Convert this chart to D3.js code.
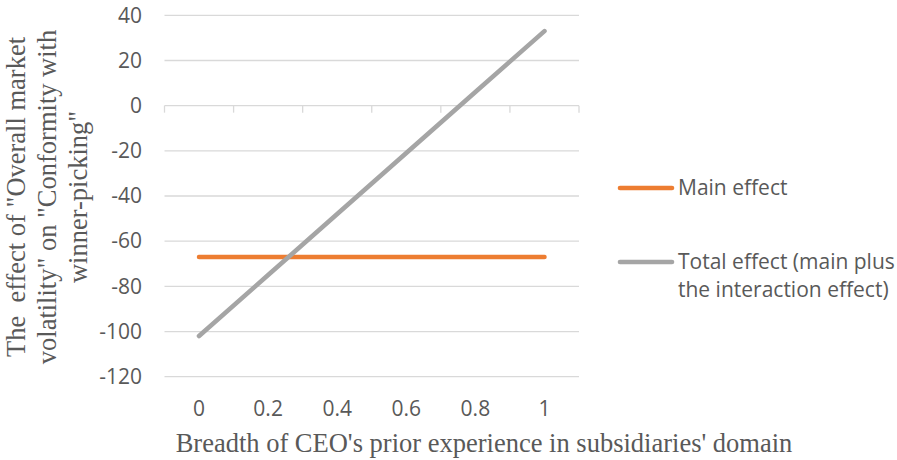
<!DOCTYPE html>
<html><head><meta charset="utf-8">
<script src="https://cdn.jsdelivr.net/npm/d3@7"></script>
<style>body{margin:0;background:#fff}svg{display:block}</style>
</head><body>
<svg id="c" width="897" height="460"></svg>
<script>
const categories = ["0", "0.2", "0.4", "0.6", "0.8", "1"];
const mainEffect = [-67, -67, -67, -67, -67, -67];
const totalEffect = [-102, -75, -48, -21, 6, 33];
const yTicks = [40, 20, 0, -20, -40, -60, -80, -100, -120];
const seriesNames = ["Main effect", "Total effect (main plus|the interaction effect)"];
const colors = ["#ED7D31", "#A5A5A5"];
const yTitle = ["The  effect of \"Overall market", "volatility\" on \"Conformity with", "winner-picking\""];
const xTitle = "Breadth of CEO's prior experience in subsidiaries' domain";

const svg = d3.select("#c");
const L = 164.5, R = 579, T = 15.3, B = 376.7;
const x = d3.scaleBand().domain(categories).range([L, R]).padding(0);
const y = d3.scaleLinear().domain([-120, 40]).range([B, T]);
const tickFont = "'Open Sans', sans-serif";
const serif = "'Liberation Serif', 'Times New Roman', serif";
const txtCol = "#595959";
const fs = 21;

// gridlines
svg.append("g").selectAll("line").data(yTicks.filter(d => d !== 0)).join("line")
  .attr("x1", L).attr("x2", R).attr("y1", d => y(d)).attr("y2", d => y(d))
  .attr("stroke", "#d9d9d9").attr("stroke-width", 1.3);

// y axis labels
const yAxis = d3.axisLeft(y).tickValues(yTicks).tickSize(0).tickPadding(0).tickFormat(d => String(d));
const gy = svg.append("g").attr("transform", `translate(142,0)`).call(yAxis);
gy.select(".domain").remove();
gy.selectAll("text").attr("font-family", tickFont).attr("font-size", fs).attr("fill", txtCol);

// x axis line at y=0 with ticks downward at category boundaries
const gx0 = svg.append("g").attr("transform", `translate(0,${y(0)})`);
gx0.append("line").attr("x1", L).attr("x2", R).attr("y1", 0).attr("y2", 0).attr("stroke", "#d9d9d9").attr("stroke-width", 1.3);
const bounds = categories.map(c => x(c)).concat([R]);
gx0.selectAll("line.tk").data(bounds).join("line").attr("class", "tk")
  .attr("x1", d => d).attr("x2", d => d).attr("y1", 0).attr("y2", 7)
  .attr("stroke", "#d9d9d9").attr("stroke-width", 1.3);

// x labels at bottom
const xAxis = d3.axisBottom(x).tickSize(0).tickPadding(0);
const gx = svg.append("g").attr("transform", `translate(0,401)`).call(xAxis);
gx.select(".domain").remove();
gx.selectAll("text").attr("font-family", tickFont).attr("font-size", fs).attr("fill", txtCol).attr("dy", "0.71em");

// lines
const line = d3.line().x((d, i) => x(categories[i]) + x.bandwidth() / 2).y(d => y(d));
[mainEffect, totalEffect].forEach((s, i) => {
  svg.append("path").datum(s).attr("d", line).attr("fill", "none")
    .attr("stroke", colors[i]).attr("stroke-width", 4.6).attr("stroke-linecap", "round").attr("stroke-linejoin", "round");
});

// legend
const legY = [188, 262];
seriesNames.forEach((n, i) => {
  svg.append("line").attr("x1", 620).attr("x2", 672).attr("y1", legY[i]).attr("y2", legY[i])
    .attr("stroke", colors[i]).attr("stroke-width", 4.6).attr("stroke-linecap", "round");
  const t = svg.append("text").attr("x", 678).attr("y", legY[i] + 7).attr("font-family", tickFont)
    .attr("font-size", fs).attr("fill", txtCol);
  n.split("|").forEach((ln, j) => t.append("tspan").attr("x", 678).attr("dy", j === 0 ? 0 : 28).text(ln));
});

// y title
const yt = svg.append("text").attr("transform", "translate(0,197) rotate(-90)")
  .attr("text-anchor", "middle").attr("font-family", serif)
  .attr("font-size", 26.5).attr("fill", txtCol).style("white-space", "pre");
yTitle.forEach((ln, j) => yt.append("tspan").attr("x", 0).attr("y", 25 + j * 31).text(ln));

// x title
svg.append("text").attr("x", 484).attr("y", 452).attr("text-anchor", "middle")
  .attr("font-family", serif).attr("font-size", 26.5)
  .attr("fill", txtCol).text(xTitle);
</script>
</body></html>
